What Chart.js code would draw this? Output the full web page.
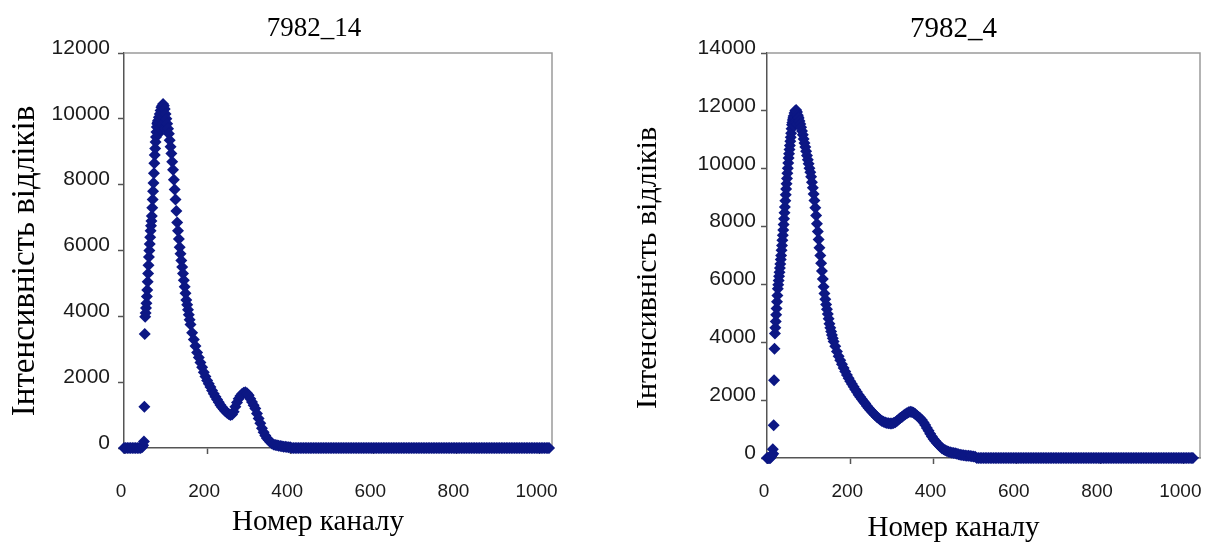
<!DOCTYPE html>
<html lang="uk">
<head>
<meta charset="UTF-8">
<title>7982_14 / 7982_4</title>
<script src="https://cdn.jsdelivr.net/npm/chart.js"></script>
<style>
  body { margin: 0; background: #fff; overflow: hidden; }
  .panel { position: absolute; top: 0; height: 543px; }
  #left { left: 0; width: 600px; }
  #right { left: 600px; width: 610px; }
</style>
</head>
<body>

<div class="panel" id="left"><canvas id="chart14"></canvas></div>
<div class="panel" id="right"><canvas id="chart4"></canvas></div>

<script>
  const xTickValues = [0, 200, 400, 600, 800, 1000];
  const yTicks14 = [0, 2000, 4000, 6000, 8000, 10000, 12000];
  const yTicks4 = [0, 2000, 4000, 6000, 8000, 10000, 12000, 14000];

  // spectrum 7982_14 (channel -> counts)
  const channels14 = [
    0, 4, 8, 12, 16, 20, 24, 28, 32, 36, 40, 44, 46, 48,
    49, 50, 51, 52, 53, 54, 55, 56, 57, 58, 59, 60, 61, 62, 63, 64,
    65, 66, 67, 68, 69, 70, 71, 72, 73, 74, 75, 76, 77, 78, 79, 80,
    81, 82, 83, 84, 85, 86, 87, 88, 89, 90, 91, 92, 93, 94, 95, 96, 97, 98, 99, 100,
    102, 104, 106, 108, 110, 112, 114, 116, 118, 120, 122, 124, 126, 128, 130,
    132, 134, 136, 138, 140, 142, 144, 146, 148, 150, 152, 154, 156, 158, 160,
    164, 168, 172, 176, 180, 184, 188, 192, 196, 200, 204, 208, 212, 216, 220,
    224, 228, 232, 236, 240, 244, 248, 252, 256, 260, 264, 268, 272, 276, 280,
    284, 288, 292, 296, 300, 304, 308, 312, 316, 320, 324, 328, 332, 336, 340,
    344, 348, 352, 356, 360, 364, 368, 372, 376, 380, 384, 388, 392, 396, 400,
    404, 408, 412, 416, 420, 424, 428, 432, 436, 440, 444, 448, 452, 456, 460, 464, 468, 472, 476, 480,
    484, 488, 492, 496, 500, 504, 508, 512, 516, 520, 524, 528, 532, 536, 540, 544, 548, 552, 556, 560,
    564, 568, 572, 576, 580, 584, 588, 592, 596, 600, 604, 608, 612, 616, 620, 624, 628, 632, 636, 640,
    644, 648, 652, 656, 660, 664, 668, 672, 676, 680, 684, 688, 692, 696, 700, 704, 708, 712, 716, 720,
    724, 728, 732, 736, 740, 744, 748, 752, 756, 760, 764, 768, 772, 776, 780, 784, 788, 792, 796, 800,
    804, 808, 812, 816, 820, 824, 828, 832, 836, 840, 844, 848, 852, 856, 860, 864, 868, 872, 876, 880,
    884, 888, 892, 896, 900, 904, 908, 912, 916, 920, 924, 928, 932, 936, 940, 944, 948, 952, 956, 960,
    964, 968, 972, 976, 980, 984, 988, 992, 996, 1000, 1004, 1008, 1012, 1016, 1020,
    1023
  ];
  const counts14 = [
    0, 0, 0, 0, 0, 0, 0, 0, 0, 0, 0, 30, 80, 200,
    1255, 3465, 3990, 4100, 4250, 4400, 4600, 4800, 5050, 5300, 5550, 5800, 6000, 6200, 6400, 6600,
    6750, 6900, 7050, 7300, 7550, 7800, 8050, 8350, 8650, 8900, 9100, 9300, 9450, 9600, 9750, 9850,
    9900, 9950, 9550, 10050, 9650, 10150, 9700, 10250, 9750, 10350, 9800, 10400, 9850, 10450, 9800, 10400, 9750, 10300, 9700, 10150,
    10000, 9850, 9700, 9550, 9350, 9150, 8950, 8700, 8450, 8150, 7850, 7550, 7200, 6850, 6600,
    6350, 6100, 5900, 5700, 5500, 5300, 5100, 4900, 4700, 4500, 4350, 4200, 4050, 3900, 3750,
    3500, 3300, 3100, 2900, 2750, 2600, 2450, 2300, 2170, 2050, 1950, 1850, 1750, 1650, 1560,
    1470, 1390, 1310, 1240, 1180, 1120, 1070, 1030, 1000, 1020, 1100, 1250, 1380, 1500, 1580,
    1640, 1680, 1690, 1660, 1600, 1500, 1400, 1300, 1200, 1050, 900, 750, 600, 480, 380,
    300, 240, 180, 140, 110, 90, 80, 70, 60, 50, 40, 35, 30, 25, 20,
    0, 0, 0, 0, 0, 0, 0, 0, 0, 0, 0, 0, 0, 0, 0, 0, 0, 0, 0, 0,
    0, 0, 0, 0, 0, 0, 0, 0, 0, 0, 0, 0, 0, 0, 0, 0, 0, 0, 0, 0,
    0, 0, 0, 0, 0, 0, 0, 0, 0, 0, 0, 0, 0, 0, 0, 0, 0, 0, 0, 0,
    0, 0, 0, 0, 0, 0, 0, 0, 0, 0, 0, 0, 0, 0, 0, 0, 0, 0, 0, 0,
    0, 0, 0, 0, 0, 0, 0, 0, 0, 0, 0, 0, 0, 0, 0, 0, 0, 0, 0, 0,
    0, 0, 0, 0, 0, 0, 0, 0, 0, 0, 0, 0, 0, 0, 0, 0, 0, 0, 0, 0,
    0, 0, 0, 0, 0, 0, 0, 0, 0, 0, 0, 0, 0, 0, 0, 0, 0, 0, 0, 0,
    0, 0, 0, 0, 0, 0, 0, 0, 0, 0, 0, 0, 0, 0, 0,
    0
  ];

  // spectrum 7982_4
  const channels4 = [
    0, 2, 4, 6, 8, 10, 12, 14, 15,
    16, 17, 18, 19, 20, 21, 22, 23, 24, 25, 26, 27, 28, 29, 30, 31,
    32, 33, 34, 35, 36, 37, 38, 39, 40, 41, 42, 43, 44, 45, 46, 47,
    48, 49, 50, 51, 52, 53, 54, 55, 56, 57, 58, 59, 60, 61, 62, 63,
    64, 65, 66, 67, 68, 69, 70, 71, 72, 73, 74, 75,
    76, 78, 80, 82, 84, 86, 88, 90, 92, 94, 96, 98, 100,
    102, 104, 106, 108, 110, 112, 114, 116, 118, 120, 122, 124, 126, 128, 130,
    132, 134, 136, 138, 140, 142, 144, 146, 148, 150, 152, 154, 156, 158, 160,
    164, 168, 172, 176, 180, 184, 188, 192, 196, 200, 204, 208, 212, 216, 220,
    224, 228, 232, 236, 240, 244, 248, 252, 256, 260, 264, 268, 272, 276, 280,
    284, 288, 292, 296, 300, 304, 308, 312, 316, 320, 324, 328, 332, 336, 340,
    344, 348, 352, 356, 360, 364, 368, 372, 376, 380, 384, 388, 392, 396, 400,
    404, 408, 412, 416, 420, 424, 428, 432, 436, 440, 444, 448, 452, 456, 460,
    464, 468, 472, 476, 480, 484, 488, 492, 496, 500,
    504, 508, 512, 516, 520, 524, 528, 532, 536, 540, 544, 548, 552, 556, 560, 564, 568, 572, 576, 580,
    584, 588, 592, 596, 600, 604, 608, 612, 616, 620, 624, 628, 632, 636, 640, 644, 648, 652, 656, 660,
    664, 668, 672, 676, 680, 684, 688, 692, 696, 700, 704, 708, 712, 716, 720, 724, 728, 732, 736, 740,
    744, 748, 752, 756, 760, 764, 768, 772, 776, 780, 784, 788, 792, 796, 800, 804, 808, 812, 816, 820,
    824, 828, 832, 836, 840, 844, 848, 852, 856, 860, 864, 868, 872, 876, 880, 884, 888, 892, 896, 900,
    904, 908, 912, 916, 920, 924, 928, 932, 936, 940, 944, 948, 952, 956, 960, 964, 968, 972, 976, 980,
    984, 988, 992, 996, 1000, 1004, 1008, 1012, 1016, 1020,
    1023
  ];
  const counts4 = [
    0, 0, 0, 0, 0, 50, 100, 300, 150,
    1135, 2684, 3775, 4300, 4500, 4720, 4950, 5170, 5400, 5620, 5850, 5990, 6140, 6280, 6420, 6570,
    6710, 6860, 7000, 7180, 7350, 7530, 7700, 7880, 8070, 8270, 8480, 8680, 8890, 9100, 9300, 9480,
    9660, 9840, 10020, 10200, 10370, 10520, 10660, 10800, 10950, 11090, 11230, 11380, 11520, 11600, 11680, 11750,
    11820, 11500, 11930, 11600, 12000, 11650, 12030, 11600, 11960, 11550, 11850, 11780,
    11750, 11650, 11550, 11430, 11300, 11170, 11030, 10890, 10750, 10600, 10460, 10310, 10170,
    10020, 9880, 9720, 9530, 9340, 9130, 8900, 8650, 8380, 8100, 7830, 7550, 7270, 7000, 6730,
    6460, 6190, 5920, 5690, 5490, 5310, 5140, 4980, 4810, 4640, 4500, 4370, 4250, 4140, 4030,
    3860, 3680, 3520, 3380, 3240, 3110, 2990, 2870, 2760, 2650, 2560, 2460, 2370, 2280, 2190,
    2110, 2030, 1950, 1880, 1800, 1730, 1660, 1600, 1540, 1480, 1420, 1370, 1320, 1280, 1250,
    1230, 1210, 1200, 1190, 1190, 1210, 1240, 1280, 1330, 1380, 1420, 1470, 1510, 1550, 1580,
    1600, 1590, 1560, 1520, 1470, 1420, 1370, 1310, 1230, 1140, 1040, 940, 840, 740, 660,
    590, 520, 460, 400, 340, 300, 270, 240, 220, 200, 185, 170, 160, 145, 130,
    115, 105, 95, 85, 80, 75, 70, 60, 50, 40,
    0, 0, 0, 0, 0, 0, 0, 0, 0, 0, 0, 0, 0, 0, 0, 0, 0, 0, 0, 0,
    0, 0, 0, 0, 0, 0, 0, 0, 0, 0, 0, 0, 0, 0, 0, 0, 0, 0, 0, 0,
    0, 0, 0, 0, 0, 0, 0, 0, 0, 0, 0, 0, 0, 0, 0, 0, 0, 0, 0, 0,
    0, 0, 0, 0, 0, 0, 0, 0, 0, 0, 0, 0, 0, 0, 0, 0, 0, 0, 0, 0,
    0, 0, 0, 0, 0, 0, 0, 0, 0, 0, 0, 0, 0, 0, 0, 0, 0, 0, 0, 0,
    0, 0, 0, 0, 0, 0, 0, 0, 0, 0, 0, 0, 0, 0, 0, 0, 0, 0, 0, 0,
    0, 0, 0, 0, 0, 0, 0, 0, 0, 0,
    0
  ];

  const xTitle = 'Номер каналу';
  const yTitle = 'Інтенсивність відліків';
  const markerColor = '#0c1784';

  // top and right edges of the plot box
  const frame = {
    id: 'frame',
    beforeDatasetsDraw(chart) {
      const { ctx, chartArea: a } = chart;
      ctx.save();
      ctx.strokeStyle = '#9a9a9a';
      ctx.lineWidth = 1.5;
      ctx.beginPath();
      ctx.moveTo(a.left, a.top);
      ctx.lineTo(a.right, a.top);
      ctx.lineTo(a.right, a.bottom);
      ctx.stroke();
      ctx.restore();
    }
  };

  // panel caption and axis captions, placed like in the source figure
  const captions = {
    id: 'captions',
    afterDraw(chart, args, opts) {
      const { ctx, chartArea: a } = chart;
      const mid = (a.left + a.right) / 2;
      ctx.save();
      ctx.fillStyle = '#000';
      ctx.textAlign = 'center';
      ctx.textBaseline = 'middle';
      ctx.font = opts.titleSize + 'px "Liberation Serif"';
      ctx.fillText(opts.title, mid + opts.titleShift, opts.titleY);
      ctx.font = '29px "Liberation Serif"';
      ctx.fillText(xTitle, mid + opts.xTitleShift, opts.xTitleY);
      ctx.font = opts.yTitleSize + 'px "Liberation Serif"';
      ctx.translate(opts.yTitleX, opts.yTitleY);
      ctx.rotate(-Math.PI / 2);
      ctx.fillText(yTitle, 0, 0);
      ctx.restore();
    }
  };

  function makeChart(id, p) {
    const points = p.channels.map((c, i) => ({ x: c, y: p.counts[i] }));

    return new Chart(document.getElementById(id), {
      type: 'scatter',
      data: {
        datasets: [{
          data: points,
          pointStyle: 'rectRot',
          pointRadius: 6,
          pointHoverRadius: 6,
          borderWidth: 0,
          backgroundColor: markerColor,
          borderColor: markerColor,
          clip: false
        }]
      },
      plugins: [frame, captions],
      options: {
        responsive: true,
        maintainAspectRatio: false,
        animation: false,
        layout: {
          padding: { top: 53, right: p.padRight, left: 0, bottom: 0 }
        },
        plugins: {
          legend: { display: false },
          tooltip: { enabled: false },
          captions: {
            title: p.title,
            titleSize: p.titleSize,
            titleShift: p.titleShift,
            titleY: 29,
            xTitleShift: p.xTitleShift,
            xTitleY: p.xTitleY,
            yTitleSize: p.yTitleSize,
            yTitleX: p.yTitleX,
            yTitleY: p.yTitleY
          }
        },
        scales: {
          x: {
            type: 'linear',
            min: 0,
            max: p.xMax,
            afterFit: s => { s.height = p.xHeight; },
            afterBuildTicks: s => { s.ticks = xTickValues.map(v => ({ value: v })); },
            border: { display: true, color: '#555', width: 1.5 },
            grid: { display: true, drawOnChartArea: false, tickLength: 6, tickColor: '#555', tickWidth: 1.5 },
            ticks: {
              maxRotation: 0,
              padding: 2,
              labelOffset: -3,
              callback: v => String(v),
              // tall line box pushes the labels down to where the source has them
              font: { family: 'Liberation Sans', size: 19, lineHeight: p.xLabelLine },
              color: '#1a1a1a'
            }
          },
          y: {
            min: 0,
            max: p.yMax,
            afterFit: s => { s.width = p.yWidth; },
            afterBuildTicks: s => { s.ticks = p.yTicks.map(v => ({ value: v })); },
            border: { display: true, color: '#555', width: 1.5 },
            grid: { display: true, drawOnChartArea: false, tickLength: 6, tickColor: '#555', tickWidth: 1.5 },
            ticks: {
              padding: p.yTickPad,
              labelOffset: -5,
              callback: v => String(v),
              font: { family: 'Liberation Sans', size: 21 },
              color: '#1a1a1a'
            }
          }
        }
      }
    });
  }

  makeChart('chart14', {
    channels: channels14, counts: counts14, yTicks: yTicks14,
    title: '7982_14', titleSize: 27, titleShift: -24,
    xMax: 1030, yMax: 12000,
    yWidth: 124, xHeight: 95, padRight: 48, yTickPad: 8,
    xLabelLine: 3.8, xTitleShift: -20, xTitleY: 522,
    yTitleSize: 33, yTitleX: 25, yTitleY: 261
  });

  makeChart('chart4', {
    channels: channels4, counts: counts4, yTicks: yTicks4,
    title: '7982_4', titleSize: 29, titleShift: -30,
    xMax: 1040, yMax: 14000,
    yWidth: 167, xHeight: 85, padRight: 10, yTickPad: 5,
    xLabelLine: 2.75, xTitleShift: -30, xTitleY: 528,
    yTitleSize: 30, yTitleX: 48, yTitleY: 268
  });
</script>

</body>
</html>
